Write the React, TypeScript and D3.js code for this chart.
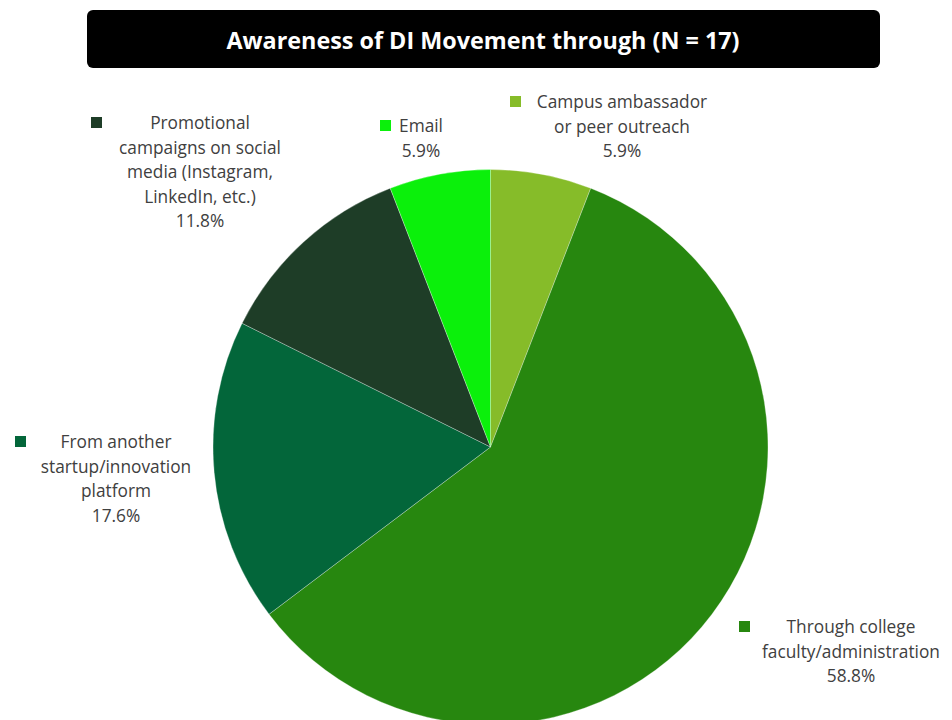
import React from "react";
import * as d3 from "d3";

const categories = [
  "Campus ambassador or peer outreach",
  "Through college faculty/administration",
  "From another startup/innovation platform",
  "Promotional campaigns on social media (Instagram, LinkedIn, etc.)",
  "Email",
];
const counts = [1, 10, 3, 2, 1];
const colors = ["#86BC29", "#27870F", "#03663A", "#1E3D27", "#0BF00B"];
const labelLines = [
  ["Campus ambassador", "or peer outreach"],
  ["Through college", "faculty/administration"],
  ["From another", "startup/innovation", "platform"],
  ["Promotional", "campaigns on social", "media (Instagram,", "LinkedIn, etc.)"],
  ["Email"],
];
const title = "Awareness of DI Movement through (N = 17)";

// label layout: center x of text block, y of first line, square x
const labelLayout = [
  { cx: 622, y: 108, sq: 510 },
  { cx: 851, y: 633, sq: 739 },
  { cx: 116, y: 448, sq: 15 },
  { cx: 200, y: 129, sq: 91 },
  { cx: 421, y: 132, sq: 380 },
];

export default function App() {
  const W = 952, H = 720;
  const cx = 490.5, cy = 447, r = 277.5;
  const total = d3.sum(counts);
  const pie = d3.pie<number>().value((d) => d).sort(null);
  const arcs = pie(counts);
  const arc = d3.arc<d3.PieArcDatum<number>>().innerRadius(0).outerRadius(r);
  const fmt = (v: number) => d3.format(".1%")(v / total);
  const lh = 24.5;
  const font = "'Open Sans', sans-serif";

  return (
    <svg width={W} height={H} style={{ position: "absolute", left: 0, top: 0, background: "#fff" }}>
      <rect x={87} y={10} width={793} height={58} rx={6} fill="#000" />
      <text x={483} y={49} textAnchor="middle" fill="#fff" fontSize={23.5} fontWeight="bold"
        textLength={513} lengthAdjust="spacingAndGlyphs"
        fontFamily="'Open Sans', sans-serif">{title}</text>
      <g transform={`translate(${cx},${cy})`}>
        {arcs.map((a, i) => (
          <path key={categories[i]} d={arc(a) || ""} fill={colors[i]} stroke="#fff" strokeWidth={0.3} />
        ))}
      </g>
      {labelLayout.map((L, i) => {
        const lines = [...labelLines[i], fmt(counts[i])];
        return (
          <g key={"lab" + i}>
            <rect x={L.sq} y={L.y - 12} width={11} height={11} fill={colors[i]} />
            {lines.map((t, j) => (
              <text key={j} x={L.cx} y={L.y + j * lh} textAnchor="middle" fontSize={17.3}
                fill="#404040" fontFamily={font}>{t}</text>
            ))}
          </g>
        );
      })}
    </svg>
  );
}
